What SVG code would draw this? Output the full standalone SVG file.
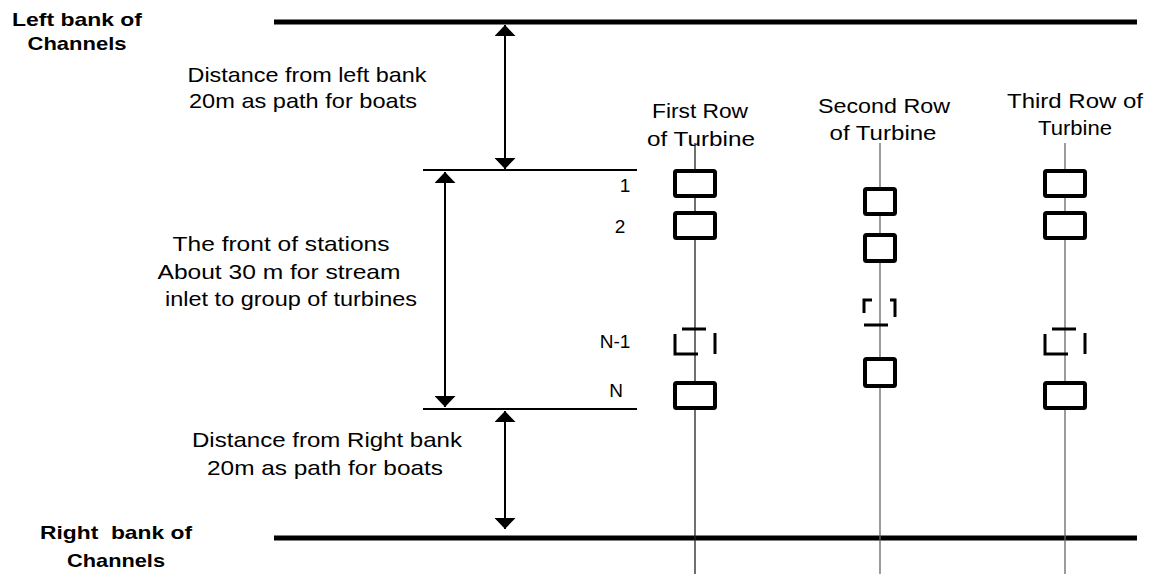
<svg xmlns="http://www.w3.org/2000/svg" width="1164" height="574" viewBox="0 0 1164 574">
<style>
text{font-family:"Liberation Sans",Arial,sans-serif;font-size:21px;fill:#000}
.b{font-weight:bold;font-size:19px}
.n{font-size:19px}
.bank{stroke:#000;stroke-width:5;fill:none}
.thin{stroke:#000;stroke-width:2;fill:none}
.axis{stroke:#666;stroke-width:1.3;fill:none}
.box{stroke:#000;stroke-width:4;fill:#fff}
.dash{stroke:#000;stroke-width:3;fill:none}
</style>
<defs>
<marker id="ah2" viewBox="0 0 11 21" refX="11" refY="10.5" markerWidth="11" markerHeight="21" markerUnits="userSpaceOnUse" orient="auto-start-reverse">
<path d="M0,0 L11,10.5 L0,21 z" fill="#000"/>
</marker>
</defs>
<rect width="1164" height="574" fill="#fff"/>
<g id="banks">
<line class="bank" x1="274" y1="22" x2="1137" y2="22"/>
<line class="bank" x1="274" y1="538" x2="1137" y2="538"/>
<line class="thin" x1="423" y1="170" x2="637" y2="170"/>
<line class="thin" x1="423" y1="409" x2="637" y2="409"/>
<text class="b" x="77" y="26" text-anchor="middle" textLength="130" lengthAdjust="spacingAndGlyphs">Left bank of</text>
<text class="b" x="77" y="50" text-anchor="middle" textLength="99" lengthAdjust="spacingAndGlyphs">Channels</text>
<text class="b" x="116" y="539" text-anchor="middle" xml:space="preserve" textLength="152" lengthAdjust="spacingAndGlyphs">Right  bank of</text>
<text class="b" x="116" y="567" text-anchor="middle" textLength="98" lengthAdjust="spacingAndGlyphs">Channels</text>
</g>
<g id="connectors">
<line class="thin" x1="505" y1="25" x2="505" y2="169" marker-start="url(#ah2)" marker-end="url(#ah2)"/>
<line class="thin" x1="445" y1="172" x2="445" y2="407" marker-start="url(#ah2)" marker-end="url(#ah2)"/>
<line class="thin" x1="505" y1="411" x2="505" y2="529" marker-start="url(#ah2)" marker-end="url(#ah2)"/>
</g>
<g id="labels">
<text x="307" y="82" text-anchor="middle" textLength="239" lengthAdjust="spacingAndGlyphs">Distance from left bank</text>
<text x="303" y="108" text-anchor="middle" textLength="228" lengthAdjust="spacingAndGlyphs">20m as path for boats</text>
<text x="281" y="251" text-anchor="middle" textLength="217" lengthAdjust="spacingAndGlyphs">The front of stations</text>
<text x="279" y="279" text-anchor="middle" textLength="243" lengthAdjust="spacingAndGlyphs">About 30 m for stream</text>
<text x="291" y="306" text-anchor="middle" textLength="252" lengthAdjust="spacingAndGlyphs">inlet to group of turbines</text>
<text x="327" y="447" text-anchor="middle" textLength="270" lengthAdjust="spacingAndGlyphs">Distance from Right bank</text>
<text x="325" y="475" text-anchor="middle" textLength="236" lengthAdjust="spacingAndGlyphs">20m as path for boats</text>
<text class="n" x="625" y="192" text-anchor="middle">1</text>
<text class="n" x="620" y="233" text-anchor="middle">2</text>
<text class="n" x="615" y="348" text-anchor="middle">N-1</text>
<text class="n" x="616" y="397" text-anchor="middle">N</text>
</g>
<g id="row1">
<line class="axis" style="stroke:#222" x1="695" y1="143" x2="695" y2="574"/>
<text x="700" y="118" text-anchor="middle" textLength="96" lengthAdjust="spacingAndGlyphs">First Row</text>
<text x="701" y="146" text-anchor="middle" textLength="108" lengthAdjust="spacingAndGlyphs">of Turbine</text>
<rect class="box" x="675" y="171" width="40" height="25" rx="1.5"/>
<rect class="box" x="675" y="213" width="40" height="25" rx="1.5"/>
<path class="dash" d="M682,329 H706 M675,334 V354 H698 M715,333 V354"/>
<rect class="box" x="675" y="383" width="40" height="25" rx="1.5"/>
</g>
<g id="row2">
<line class="axis" x1="880" y1="143" x2="880" y2="574"/>
<text x="884" y="113" text-anchor="middle" textLength="132" lengthAdjust="spacingAndGlyphs">Second Row</text>
<text x="883" y="140" text-anchor="middle" textLength="107" lengthAdjust="spacingAndGlyphs">of Turbine</text>
<rect class="box" x="865" y="189" width="30" height="25" rx="1.5"/>
<rect class="box" x="865" y="235" width="30" height="26" rx="1.5"/>
<path class="dash" d="M872,300 H864 V313 M890,300 H895 V317 M864,325 H888"/>
<rect class="box" x="865" y="359" width="30" height="27" rx="1.5"/>
</g>
<g id="row3">
<line class="axis" x1="1065" y1="143" x2="1065" y2="574"/>
<text x="1075" y="108" text-anchor="middle" textLength="136" lengthAdjust="spacingAndGlyphs">Third Row of</text>
<text x="1075" y="135" text-anchor="middle" textLength="74" lengthAdjust="spacingAndGlyphs">Turbine</text>
<rect class="box" x="1045" y="171" width="40" height="25" rx="1.5"/>
<rect class="box" x="1045" y="213" width="40" height="25" rx="1.5"/>
<path class="dash" d="M1052,329 H1076 M1045,334 V354 H1068 M1085,333 V354"/>
<rect class="box" x="1045" y="383" width="40" height="25" rx="1.5"/>
</g>
</svg>
